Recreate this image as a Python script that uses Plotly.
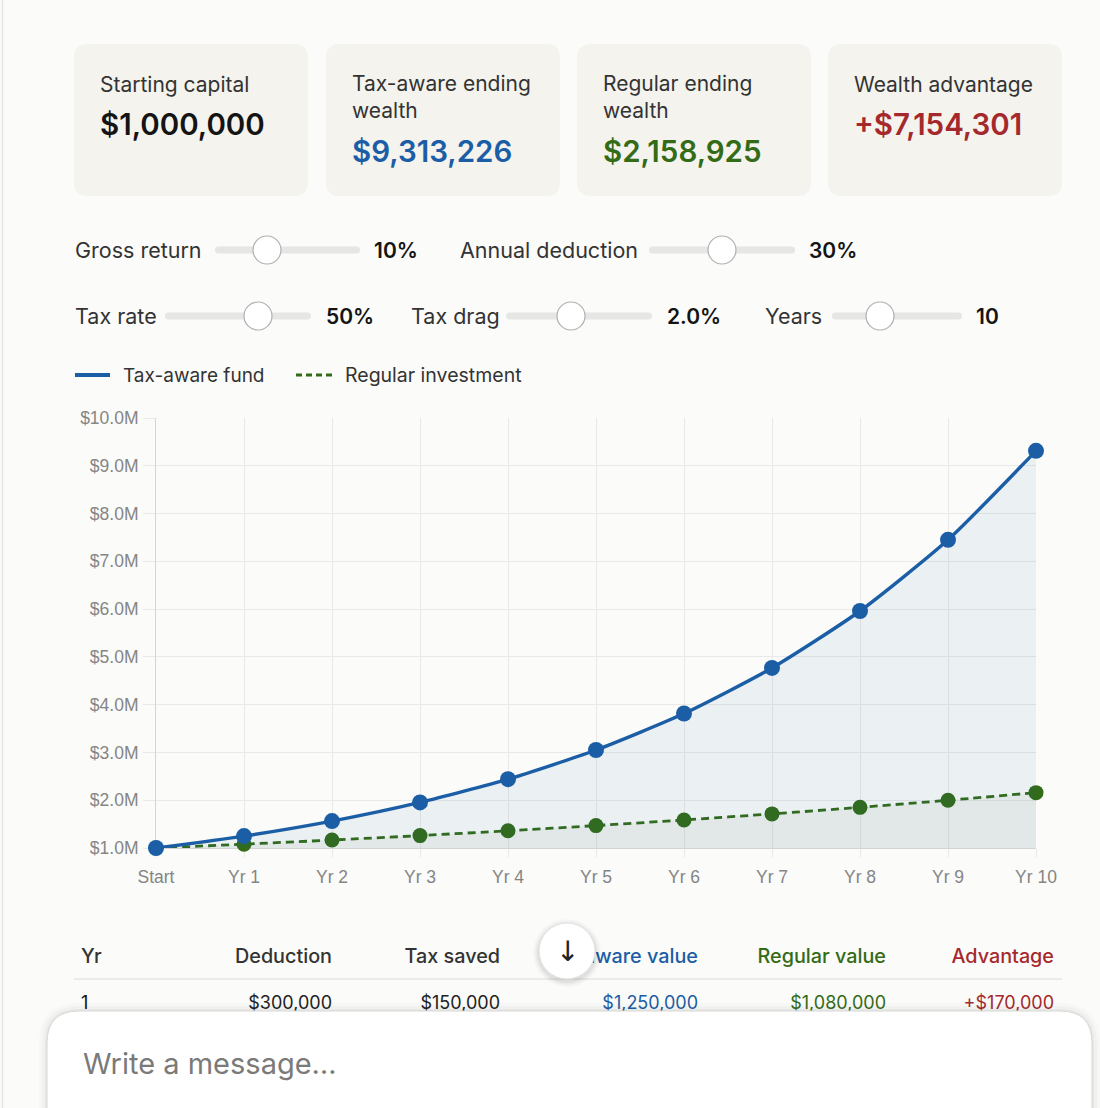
import plotly.graph_objects as go

# ---------------- data ----------------
years = ["Start", "Yr 1", "Yr 2", "Yr 3", "Yr 4", "Yr 5", "Yr 6", "Yr 7", "Yr 8", "Yr 9", "Yr 10"]
tax_aware = [1000000, 1250000, 1562500, 1953125, 2441406, 3051758, 3814697, 4768372, 5960464, 7450581, 9313226]
regular = [1000000, 1080000, 1166400, 1259712, 1360489, 1469328, 1586874, 1713824, 1850930, 1999005, 2158925]
y_tickvals = [1000000, 2000000, 3000000, 4000000, 5000000, 6000000, 7000000, 8000000, 9000000, 10000000]
y_ticktext = ["$1.0M", "$2.0M", "$3.0M", "$4.0M", "$5.0M", "$6.0M", "$7.0M", "$8.0M", "$9.0M", "$10.0M"]

card_labels = ["Starting capital", "Tax-aware ending<br>wealth", "Regular ending<br>wealth", "Wealth advantage"]
card_values = ["$1,000,000", "$9,313,226", "$2,158,925", "+$7,154,301"]

slider_labels = ["Gross return", "Annual deduction", "Tax rate", "Tax drag", "Years"]
slider_values = ["10%", "30%", "50%", "2.0%", "10"]

legend_names = ["Tax-aware fund", "Regular investment"]

table_headers = ["Yr", "Deduction", "Tax saved", "Tax-aware value", "Regular value", "Advantage"]
table_row1 = ["1", "$300,000", "$150,000", "$1,250,000", "$1,080,000", "+$170,000"]

placeholder = "Write a message\u2026"

# ---------------- style ----------------
W, H = 1100, 1108
PL, PR, PT, PB = 156, 1036, 418, 848
BG = "#fbfbf9"
CARD = "#f4f3ee"
BLUE = "#1b5ea6"
GREEN = "#336b17"
RED = "#a5292c"
DARK = "#141414"
TXT = "#333333"
GRID = "#e9e9e9"
UI = "Inter, Lato, sans-serif"
CH = "Liberation Sans, Arial, sans-serif"

fig = go.Figure()

# chart traces
fig.add_trace(go.Scatter(
    x=years, y=regular, mode="lines+markers", name=legend_names[1],
    line=dict(color=GREEN, width=2.8, dash="8px,5px", shape="spline", smoothing=0.6),
    marker=dict(size=15, color=GREEN),
    fill="tozeroy", fillcolor="rgba(51,107,23,0.055)",
    cliponaxis=False, hoverinfo="skip"))
fig.add_trace(go.Scatter(
    x=years, y=tax_aware, mode="lines+markers", name=legend_names[0],
    line=dict(color=BLUE, width=3.4, shape="spline", smoothing=0.6),
    marker=dict(size=16, color=BLUE),
    fill="tozeroy", fillcolor="rgba(27,94,166,0.07)",
    cliponaxis=False, hoverinfo="skip"))

shapes = []
annotations = []


def R(x, y):
    return f"{x:.2f},{y:.2f}"


def rrect(x0, y0, x1, y1, r):
    return ("M" + R(x0 + r, y0) + " L" + R(x1 - r, y0) + " Q" + R(x1, y0) + " " + R(x1, y0 + r) +
            " L" + R(x1, y1 - r) + " Q" + R(x1, y1) + " " + R(x1 - r, y1) +
            " L" + R(x0 + r, y1) + " Q" + R(x0, y1) + " " + R(x0, y1 - r) +
            " L" + R(x0, y0 + r) + " Q" + R(x0, y0) + " " + R(x0 + r, y0) + " Z")


def pshape(**kw):
    d = dict(xref="x2", yref="y2")
    d.update(kw)
    shapes.append(d)


def text(x, y, s, size=20, color=TXT, anchor="left", weight=400, family=UI, ya="middle"):
    annotations.append(dict(xref="x2", yref="y2", x=x, y=y, text=s, showarrow=False,
                            xanchor=anchor, yanchor=ya, align=anchor if anchor != "center" else "center",
                            font=dict(size=size, color=color, family=family, weight=weight),
                            borderpad=0))


# page left border
pshape(type="line", x0=2.5, x1=2.5, y0=0, y1=H, line=dict(color="#e4e4e2", width=1.5))

# cards
card_x = [74, 326, 577, 828]
card_w = 234
card_colors = [DARK, BLUE, GREEN, RED]
for i in range(4):
    x0 = card_x[i]
    pshape(type="path", path=rrect(x0, 44, x0 + card_w, 196, 14), fillcolor=CARD, line=dict(width=0))
    two = "<br>" in card_labels[i]
    text(x0 + 25, 97 if two else 84, card_labels[i], size=21, color=TXT)
    text(x0 + 25, 151 if two else 124, card_values[i], size=29.5, color=card_colors[i], weight=600)

# sliders
slider_geo = [  # label_x, track_x0, track_x1, thumb_x, value_x, y
    (74, 215, 360, 267, 373, 250),
    (459, 649, 795, 722, 808, 250),
    (74, 165, 311, 258, 325, 316),
    (410, 506, 652, 571, 666, 316),
    (764, 832, 962, 880, 975, 316),
]
for i, (lx, t0, t1, th, vx, y) in enumerate(slider_geo):
    text(lx, y, slider_labels[i], size=21.5, color=TXT)
    pshape(type="path", path=rrect(t0, y - 3.5, t1, y + 3.5, 3.5), fillcolor="#e6e6e4", line=dict(width=0))
    pshape(type="circle", x0=th - 14, x1=th + 14, y0=y - 14, y1=y + 14,
           fillcolor="#ffffff", line=dict(color="#b0b0b0", width=1.2))
    text(vx, y, slider_values[i], size=21, color=DARK, weight=600)

# legend
pshape(type="line", x0=75, x1=110, y0=375, y1=375, line=dict(color=BLUE, width=4))
text(122, 375, legend_names[0], size=19, color=TXT)
pshape(type="line", x0=296, x1=334, y0=375, y1=375, line=dict(color=GREEN, width=3, dash="6px,4px"))
text(344, 375, legend_names[1], size=19.5, color=TXT)

# table text as traces (so overlaying shapes can cover them)
col_x = [81, 332, 500, 698, 886, 1054]
col_pos = ["middle right"] + ["middle left"] * 5
col_colors = [TXT, TXT, TXT, BLUE, GREEN, RED]
fig.add_trace(go.Scatter(x=col_x, y=[958] * 6, xaxis="x2", yaxis="y2", mode="text",
                         text=table_headers, textposition=col_pos,
                         textfont=dict(size=19.8, color=col_colors, family=UI, weight=500),
                         hoverinfo="skip", cliponaxis=False))
row_colors = ["#111111", "#222222", "#222222", BLUE, GREEN, RED]
fig.add_trace(go.Scatter(x=col_x, y=[1004] * 6, xaxis="x2", yaxis="y2", mode="text",
                         text=table_row1, textposition=col_pos,
                         textfont=dict(size=18, color=row_colors, family=UI),
                         hoverinfo="skip", cliponaxis=False))
pshape(type="line", x0=74, x1=1062, y0=979, y1=979, line=dict(color="#dcdcda", width=1))

# scroll-down button
for k, a in [(6, 0.025), (4, 0.035), (2, 0.05)]:
    pshape(type="circle", x0=567 - 28 - k, x1=567 + 28 + k, y0=951 - 28 - k + 2, y1=951 + 28 + k + 2,
           fillcolor=f"rgba(0,0,0,{a})", line=dict(width=0), layer="above")
pshape(type="circle", x0=539, x1=595, y0=923, y1=979, fillcolor="#ffffff",
       line=dict(color="#e2e2e2", width=1), layer="above")
text(567, 950, "\u2193", size=28, color="#222222", anchor="center", family="Noto Sans, DejaVu Sans")

# message box
for k, a in [(8, 0.015), (5, 0.025), (2, 0.04)]:
    pshape(type="path", path=rrect(47 - k, 1011 - k, 1092 + k, 1180, 32 + k),
           fillcolor=f"rgba(0,0,0,{a})", line=dict(width=0), layer="above")
pshape(type="path", path=rrect(47, 1011, 1092, 1180, 32), fillcolor="#ffffff",
       line=dict(color="#d8d8d6", width=1), layer="above")
text(82, 1063, placeholder, size=29, color="#7a7a78")

fig.update_layout(
    width=W, height=H, margin=dict(l=0, r=0, t=0, b=0),
    paper_bgcolor=BG, plot_bgcolor="rgba(0,0,0,0)", showlegend=False,
    shapes=shapes, annotations=annotations,
    xaxis=dict(domain=[PL / W, PR / W], type="category", range=[0, 10],
               showgrid=True, gridcolor=GRID, gridwidth=1,
               ticks="outside", ticklen=8, tickcolor=GRID, tickwidth=1,
               showline=True, linecolor="#d4d4d4", linewidth=1, zeroline=False,
               tickfont=dict(family=CH, size=17.5, color="#858585"),
               ticklabelstandoff=5, anchor="y", automargin=False, layer="below traces"),
    yaxis=dict(domain=[1 - PB / H, 1 - PT / H], range=[1000000, 10000000],
               tickvals=y_tickvals, ticktext=y_ticktext,
               showgrid=True, gridcolor=GRID, gridwidth=1,
               ticks="outside", ticklen=12, tickcolor=GRID, tickwidth=1,
               showline=True, linecolor="#d4d4d4", linewidth=1, zeroline=False,
               tickfont=dict(family=CH, size=17.5, color="#858585"),
               ticklabelstandoff=1, anchor="x", automargin=False, layer="below traces"),
    xaxis2=dict(domain=[0, 1], range=[0, W], visible=False, anchor="y2", fixedrange=True),
    yaxis2=dict(domain=[0, 1], range=[H, 0], visible=False, anchor="x2", fixedrange=True),
)

fig.write_html("out.html", post_script="document.body.style.margin='0';")
